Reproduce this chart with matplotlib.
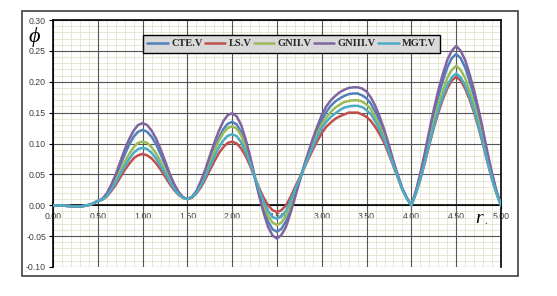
import numpy as np
import matplotlib
matplotlib.use("Agg")
import matplotlib.pyplot as plt
from matplotlib.ticker import MultipleLocator, FormatStrFormatter
from matplotlib.patches import Rectangle

# Dane (krok 0.05)
r = np.linspace(0, 5, 101)

cte_v = [0.000, -0.0002, -0.0005, -0.001, -0.0015, -0.002, -0.002, -0.001, 0.0005, 0.003, 0.007,
         0.010, 0.018, 0.031, 0.047, 0.0645, 0.082, 0.098, 0.111, 0.119, 0.122,
         0.119, 0.111, 0.099, 0.083, 0.066, 0.049, 0.033, 0.021, 0.013, 0.010,
         0.013, 0.022, 0.036, 0.053, 0.0725, 0.092, 0.109, 0.123, 0.132, 0.135,
         0.131, 0.118, 0.098, 0.074, 0.046, 0.018, -0.006, -0.026, -0.039, -0.043,
         -0.038, -0.026, -0.007, 0.016, 0.039, 0.062, 0.083, 0.103, 0.121, 0.138,
         0.151, 0.161, 0.168, 0.173, 0.177, 0.180, 0.181, 0.181, 0.178, 0.173,
         0.164, 0.151, 0.135, 0.116, 0.093, 0.069, 0.047, 0.026, 0.011, 0.000,
         0.022, 0.049, 0.081, 0.115, 0.147, 0.176, 0.201, 0.223, 0.238, 0.245,
         0.238, 0.223, 0.201, 0.176, 0.147, 0.115, 0.081, 0.049, 0.022, 0.000]

ls_v = [0.000, -0.0002, -0.0005, -0.001, -0.0015, -0.002, -0.002, -0.001, 0.0005, 0.003, 0.007,
        0.009, 0.014, 0.023, 0.033, 0.045, 0.057, 0.067, 0.076, 0.081, 0.083,
        0.081, 0.076, 0.068, 0.058, 0.0465, 0.035, 0.025, 0.017, 0.012, 0.010,
        0.012, 0.019, 0.029, 0.042, 0.0565, 0.071, 0.084, 0.094, 0.101, 0.103,
        0.100, 0.092, 0.080, 0.064, 0.046, 0.028, 0.0125, 0.000, -0.008, -0.011,
        -0.008, 0.000, 0.013, 0.029, 0.044, 0.059, 0.075, 0.090, 0.104, 0.117,
        0.127, 0.134, 0.140, 0.144, 0.147, 0.150, 0.150, 0.150, 0.147, 0.143,
        0.136, 0.126, 0.114, 0.100, 0.082, 0.063, 0.044, 0.025, 0.011, 0.000,
        0.019, 0.042, 0.069, 0.098, 0.125, 0.150, 0.171, 0.189, 0.202, 0.208,
        0.202, 0.189, 0.171, 0.150, 0.125, 0.098, 0.069, 0.042, 0.019, 0.000]

gnii_v = [0.000, -0.0002, -0.0005, -0.001, -0.0015, -0.002, -0.002, -0.001, 0.0005, 0.003, 0.007,
          0.009, 0.016, 0.027, 0.040, 0.055, 0.070, 0.083, 0.094, 0.101, 0.103,
          0.101, 0.094, 0.084, 0.071, 0.0565, 0.042, 0.029, 0.019, 0.012, 0.010,
          0.013, 0.021, 0.034, 0.051, 0.069, 0.087, 0.104, 0.117, 0.125, 0.128,
          0.124, 0.113, 0.095, 0.073, 0.048, 0.023, 0.001, -0.017, -0.028, -0.032,
          -0.028, -0.017, 0.000, 0.021, 0.041, 0.061, 0.080, 0.099, 0.116, 0.131,
          0.142, 0.151, 0.158, 0.163, 0.167, 0.169, 0.170, 0.170, 0.168, 0.163,
          0.155, 0.142, 0.127, 0.110, 0.089, 0.067, 0.046, 0.026, 0.011, 0.000,
          0.020, 0.045, 0.075, 0.106, 0.136, 0.163, 0.185, 0.206, 0.219, 0.226,
          0.219, 0.206, 0.185, 0.163, 0.136, 0.106, 0.075, 0.045, 0.020, 0.000]

gniii_v = [0.000, -0.0002, -0.0005, -0.001, -0.0015, -0.002, -0.002, -0.001, 0.0005, 0.003, 0.007,
           0.010, 0.019, 0.033, 0.050, 0.070, 0.090, 0.107, 0.121, 0.130, 0.133,
           0.130, 0.121, 0.108, 0.091, 0.072, 0.052, 0.035, 0.022, 0.013, 0.010,
           0.013, 0.023, 0.039, 0.058, 0.080, 0.101, 0.120, 0.136, 0.146, 0.149,
           0.144, 0.130, 0.107, 0.079, 0.0475, 0.016, -0.012, -0.035, -0.049, -0.054,
           -0.048, -0.035, -0.013, 0.012, 0.038, 0.063, 0.086, 0.108, 0.128, 0.146,
           0.160, 0.170, 0.177, 0.183, 0.187, 0.190, 0.191, 0.191, 0.189, 0.184,
           0.174, 0.160, 0.142, 0.121, 0.097, 0.071, 0.048, 0.027, 0.012, 0.000,
           0.023, 0.052, 0.085, 0.121, 0.155, 0.186, 0.212, 0.235, 0.250, 0.258,
           0.250, 0.235, 0.212, 0.186, 0.155, 0.121, 0.085, 0.052, 0.023, 0.000]

mgt_v = [0.000, -0.0002, -0.0005, -0.001, -0.0015, -0.002, -0.002, -0.001, 0.0005, 0.003, 0.007,
         0.009, 0.015, 0.025, 0.037, 0.050, 0.063, 0.075, 0.085, 0.091, 0.093,
         0.091, 0.085, 0.076, 0.064, 0.0515, 0.039, 0.027, 0.018, 0.012, 0.010,
         0.013, 0.020, 0.032, 0.046, 0.0625, 0.079, 0.093, 0.105, 0.1125, 0.115,
         0.112, 0.102, 0.087, 0.068, 0.0465, 0.025, 0.006, -0.009, -0.019, -0.022,
         -0.018, -0.009, 0.007, 0.025, 0.042, 0.060, 0.078, 0.095, 0.111, 0.125,
         0.135, 0.143, 0.149, 0.154, 0.158, 0.160, 0.161, 0.161, 0.159, 0.154,
         0.147, 0.135, 0.121, 0.105, 0.086, 0.065, 0.045, 0.025, 0.011, 0.000,
         0.019, 0.043, 0.070, 0.100, 0.128, 0.154, 0.175, 0.194, 0.207, 0.2135,
         0.207, 0.194, 0.175, 0.154, 0.128, 0.100, 0.070, 0.043, 0.019, 0.000]

labels = ['CTE.V', 'LS.V', 'GNII.V', 'GNIII.V', 'MGT.V']
series = [cte_v, ls_v, gnii_v, gniii_v, mgt_v]
colors = ['#4F81BD', '#C0504D', '#9BBB59', '#8064A2', '#4BACC6']

fig = plt.figure(figsize=(5.57, 2.96), dpi=100)
ax = fig.add_axes([53/557, 29/296, 448/557, 247/296])

for y, lab, c in zip(series, labels, colors):
    ax.plot(r, y, color=c, linewidth=1.8, label=lab, zorder=3,
            solid_joinstyle='round', solid_capstyle='round')

ax.set_xlim(0, 5)
ax.set_ylim(-0.1, 0.3)
ax.xaxis.set_major_locator(MultipleLocator(0.5))
ax.xaxis.set_minor_locator(MultipleLocator(0.1))
ax.yaxis.set_major_locator(MultipleLocator(0.05))
ax.yaxis.set_minor_locator(MultipleLocator(0.01))
ax.xaxis.set_major_formatter(FormatStrFormatter('%.2f'))
ax.yaxis.set_major_formatter(FormatStrFormatter('%.2f'))

# siatka: drobna z osi, główna osobno (żeby drobna jej nie przecinała)
ax.set_axisbelow(True)
ax.grid(which='minor', color='#e3e3cc', linewidth=0.6)
ax.grid(which='major', visible=False)
for xv in ax.get_xticks():
    ax.axvline(xv, color='#555555', linewidth=0.8, zorder=1)
for yv in ax.get_yticks():
    ax.axhline(yv, color='#555555', linewidth=0.8, zorder=1)

# osie
ax.spines['bottom'].set_position(('data', 0))
for s in ['left', 'bottom', 'top', 'right']:
    ax.spines[s].set_color('black')
    ax.spines[s].set_linewidth(1.2)
    ax.spines[s].set_zorder(2)
ax.tick_params(which='minor', length=0)
ax.tick_params(which='major', length=3, width=0.8, labelsize=6.3,
               labelcolor='#404040', pad=2)
for t in ax.get_xticklabels() + ax.get_yticklabels():
    t.set_family('Liberation Sans')

fig.text(34/557, 1 - 37/296, 'ϕ', fontsize=16, style='italic', ha='center', va='center',
         family=['Liberation Serif', 'DejaVu Serif'])
ax.text(4.76, -0.022, 'r', fontsize=14, style='italic', ha='center', va='center',
        family=['Liberation Serif', 'DejaVu Serif'])
ax.text(4.83, -0.027, '.', fontsize=7, ha='center', va='center',
        family=['Liberation Serif', 'DejaVu Serif'])

leg = ax.legend(ncol=5, loc='lower left', bbox_to_anchor=(0.201, 0.868, 0.663, 0.136),
                mode='expand', borderaxespad=0, fancybox=False, framealpha=1,
                facecolor='#d9d9d9', edgecolor='black', handlelength=2.0,
                handletextpad=0.3, columnspacing=0.8,
                prop={'family': 'Liberation Serif', 'weight': 'bold', 'size': 7.5})
leg.get_frame().set_linewidth(1.0)
leg.set_zorder(5)
for t in leg.get_texts():
    t.set_color('#262626')

# ramka wykresu
fig.patches.append(Rectangle((22/557, 20/296), 496/557, 265/296, transform=fig.transFigure,
                             fill=False, edgecolor='#404040', linewidth=1.2))

plt.savefig('out.png', dpi=100)
